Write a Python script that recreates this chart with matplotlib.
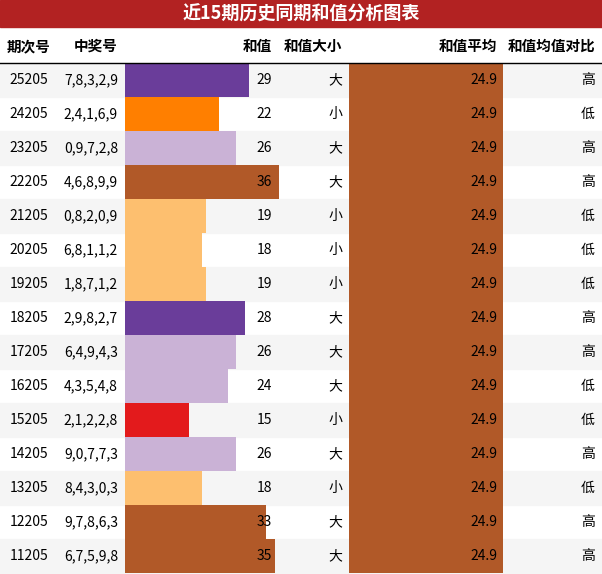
import matplotlib
matplotlib.use("Agg")
import matplotlib.pyplot as plt

plt.rcParams['font.family'] = ['Noto Sans CJK SC', 'DejaVu Sans']

periods = ['25205', '24205', '23205', '22205', '21205', '20205', '19205', '18205',
           '17205', '16205', '15205', '14205', '13205', '12205', '11205']
numbers = ['7,8,3,2,9', '2,4,1,6,9', '0,9,7,2,8', '4,6,8,9,9', '0,8,2,0,9', '6,8,1,1,2',
           '1,8,7,1,2', '2,9,8,2,7', '6,4,9,4,3', '4,3,5,4,8', '2,1,2,2,8', '9,0,7,7,3',
           '8,4,3,0,3', '9,7,8,6,3', '6,7,5,9,8']
sums = [29, 22, 26, 36, 19, 18, 19, 28, 26, 24, 15, 26, 18, 33, 35]
sizes = ['大', '小', '大', '大', '小', '小', '小', '大', '大', '大', '小', '大', '小', '大', '大']
avg = 24.9
compare = ['高', '低', '高', '高', '低', '低', '低', '高', '高', '低', '低', '高', '低', '高', '高']

color_map = {15: '#e31a1c', 18: '#fdbf6f', 19: '#fdbf6f', 22: '#ff7f00', 24: '#cab2d6',
             26: '#cab2d6', 28: '#6a3d9a', 29: '#6a3d9a', 33: '#b15928', 35: '#b15928',
             36: '#b15928'}

W, H = 602, 574
fig = plt.figure(figsize=(W / 100, H / 100), dpi=100)
ax = fig.add_axes([0, 0, 1, 1])
ax.set_xlim(0, W)
ax.set_ylim(H, 0)
ax.axis('off')

# title bar
ax.add_patch(plt.Rectangle((0, 0), W, 27, color='#b22222'))
ax.text(W / 2, 14, '近15期历史同期和值分析图表', color='white', fontsize=13,
        fontweight='bold', ha='center', va='center')

hy = 46
ax.text(29, hy, '期次号', fontsize=10.5, fontweight='bold', ha='center', va='center')
ax.text(118, hy, '中奖号', fontsize=10.5, fontweight='bold', ha='right', va='center')
ax.text(272, hy, '和值', fontsize=10.5, fontweight='bold', ha='right', va='center')
ax.text(342, hy, '和值大小', fontsize=10.5, fontweight='bold', ha='right', va='center')
ax.text(497, hy, '和值平均', fontsize=10.5, fontweight='bold', ha='right', va='center')
ax.text(595, hy, '和值均值对比', fontsize=10.5, fontweight='bold', ha='right', va='center')
ax.plot([0, W], [62.5, 62.5], color='black', lw=1)

top, rh = 63, 34
col_w = 154
scale = col_w / max(sums)
ys = [top + i * rh + rh / 2 for i in range(len(sums))]

for i, y in enumerate(ys):
    if i % 2 == 0:
        ax.add_patch(plt.Rectangle((0, y - rh / 2), W, rh, color='#f5f5f5', zorder=0))

ax.barh(ys, [s * scale for s in sums], left=125, height=rh,
        color=[color_map[s] for s in sums], zorder=1)
ax.barh(ys, [col_w * avg / avg] * len(ys), left=349, height=rh, color='#b15928', zorder=1)

for i, y in enumerate(ys):
    ax.text(29, y, periods[i], fontsize=10, ha='center', va='center', zorder=3)
    ax.text(118, y, numbers[i], fontsize=10, ha='right', va='center', zorder=3)
    ax.text(272, y, str(sums[i]), fontsize=10, ha='right', va='center', zorder=3)
    ax.text(342, y, sizes[i], fontsize=10, ha='right', va='center', zorder=3)
    ax.text(497, y, f'{avg}', fontsize=10, ha='right', va='center', zorder=3)
    ax.text(595, y, compare[i], fontsize=10, ha='right', va='center', zorder=3)

fig.savefig('out.png', dpi=100)
